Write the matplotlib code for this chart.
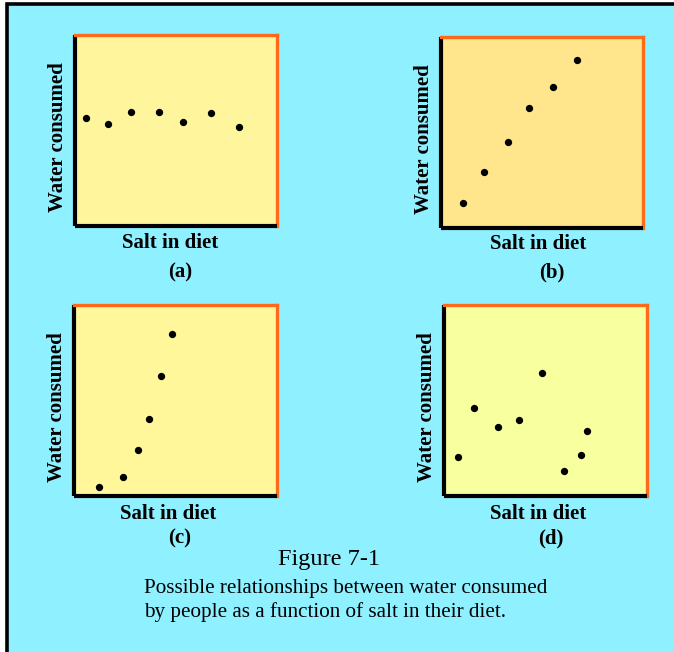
import matplotlib.pyplot as plt
from matplotlib.patches import Rectangle

# salt (x) vs water consumed (y), arbitrary 0-10 units, one pair per panel
salt_a = [0.54, 1.63, 2.77, 4.16, 5.35, 6.73, 8.12]
water_a = [5.65, 5.34, 5.97, 5.97, 5.45, 5.92, 5.18]

salt_b = [1.10, 2.11, 3.32, 4.34, 5.53, 6.75]
water_b = [1.32, 2.95, 4.52, 6.30, 7.40, 8.81]

salt_c = [1.23, 2.43, 3.15, 3.71, 4.27, 4.81]
water_c = [0.49, 1.01, 2.42, 4.05, 6.30, 8.50]

salt_d = [0.67, 1.49, 2.67, 3.71, 4.81, 5.90, 6.73, 7.03]
water_d = [2.06, 4.62, 3.63, 3.99, 6.46, 1.32, 2.16, 3.42]

panel_tags = ['(a)', '(b)', '(c)', '(d)']
xlabel = 'Salt in diet'
ylabel = 'Water consumed'
fig_title = 'Figure 7-1'
caption = ['Possible relationships between water consumed',
           'by people as a function of salt in their diet.']

W, H = 674, 652
fig = plt.figure(figsize=(W / 100, H / 100), dpi=100)
fig.patch.set_facecolor('white')
plt.rcParams['font.family'] = ['Liberation Serif', 'DejaVu Serif']

# cyan page with black rule on left and top
fig.patches.append(Rectangle((7 / W, -0.1), 1.2, 1.1 - 3.5 / H, transform=fig.transFigure,
                             facecolor='#8FF0FF', edgecolor='black', linewidth=2.6, zorder=-5))

def px_axes(x0, y0, x1, y1):
    return fig.add_axes([x0 / W, 1 - y1 / H, (x1 - x0) / W, (y1 - y0) / H])

boxes = [(75, 35, 277, 226), (441, 37, 643, 228), (74, 305, 277, 496), (444, 305, 647, 496)]
fills = ['#FFF59C', '#FFE58B', '#FFF79A', '#F8FF9E']
data = [(salt_a, water_a), (salt_b, water_b), (salt_c, water_c), (salt_d, water_d)]
tag_x = [180, 552, 180, 551]
tag_y = [272, 272, 538, 538]
lab_x = [170, 538, 168, 538]
lab_y = [243, 244, 514, 514]

for i in range(4):
    ax = px_axes(*boxes[i])
    xs, ys = data[i]
    ax.set_facecolor(fills[i])
    ax.scatter(xs, ys, s=18, color='black', zorder=3)
    ax.set_xlim(0, 10)
    ax.set_ylim(0, 10)
    ax.set_xticks([])
    ax.set_yticks([])
    for side in ['left', 'bottom']:
        ax.spines[side].set_color('black')
        ax.spines[side].set_linewidth(3)
        ax.spines[side].set_capstyle('butt')
    for side in ['top', 'right']:
        ax.spines[side].set_color('#FF6A1A')
        ax.spines[side].set_linewidth(2.4)
    ax.set_ylabel(ylabel, fontsize=15, fontweight='bold')
    bw = boxes[i][2] - boxes[i][0]
    bh = boxes[i][3] - boxes[i][1]
    ax.yaxis.set_label_coords(-7 / bw, 0.5 - 7 / bh)
    fig.text(lab_x[i] / W, 1 - lab_y[i] / H, xlabel, fontsize=15, fontweight='bold',
             ha='center', va='center')
    fig.text(tag_x[i] / W, 1 - tag_y[i] / H, panel_tags[i], fontsize=15, fontweight='bold',
             ha='center', va='center')

fig.text(329 / W, 1 - 559 / H, fig_title, fontsize=17.5, ha='center', va='center')
fig.text(144 / W, 1 - 589 / H, caption[0], fontsize=15.2, ha='left', va='center')
fig.text(144 / W, 1 - 612 / H, caption[1], fontsize=15.2, ha='left', va='center')

fig.savefig('out.png', dpi=100)
